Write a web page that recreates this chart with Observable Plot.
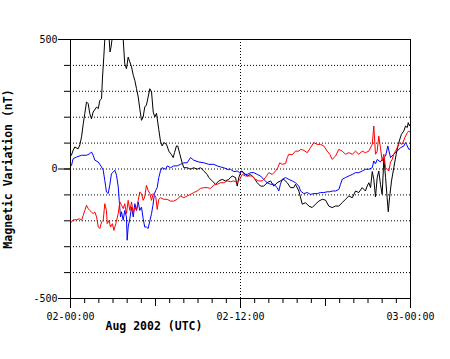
<!DOCTYPE html>
<html>
<head>
<meta charset="utf-8">
<script src="https://cdn.jsdelivr.net/npm/d3@7"></script>
<script src="https://cdn.jsdelivr.net/npm/@observablehq/plot@0.6"></script>
<style>
  html, body { margin: 0; padding: 0; background: #fff; }
  #chart svg { display: block; }
</style>
</head>
<body>
<div id="chart"></div>
<script>
// Hours since 2002-08-02 00:00 UTC, magnetic variation in nT
const blackSeries = [
  [0,50],[0.07,54],[0.19,73],[0.30,85],[0.54,78],[0.66,93],[0.78,124],[0.90,175],[1.01,214],[1.13,259],
  [1.25,252],[1.36,214],[1.48,194],[1.60,220],[1.84,239],[1.96,233],[2.07,265],[2.19,271],[2.26,355],
  [2.35,432],[2.42,500],[2.51,560],[2.65,540],[2.73,500],[2.79,452],[2.86,470],[2.93,500],[3.04,560],
  [3.39,580],[3.64,540],[3.72,500],[3.83,406],[3.95,387],[4.07,432],[4.19,413],[4.31,394],[4.43,362],
  [4.54,342],[4.66,310],[4.78,278],[4.89,233],[5.01,188],[5.13,201],[5.24,239],[5.36,247],[5.48,278],
  [5.60,310],[5.72,297],[5.84,220],[5.95,201],[6.07,215],[6.23,153],[6.35,108],[6.47,89],[6.59,102],
  [6.78,95],[6.94,69],[7.11,57],[7.25,44],[7.34,63],[7.48,89],[7.57,89],[7.72,57],[7.88,24],[8.00,5],
  [8.24,5],[8.47,-1],[8.70,5],[8.94,-1],[9.18,5],[9.41,-8],[9.65,-21],[9.76,-33],[10.00,-46],[10.24,-59],
  [10.47,-46],[10.71,-40],[10.94,-46],[11.17,-40],[11.41,-27],[11.65,-33],[11.77,-66],[11.88,-33],
  [12.05,-8],[12.23,-14],[12.47,-27],[12.71,-21],[12.94,-33],[13.18,-53],[13.41,-66],[13.64,-66],
  [13.88,-53],[14.12,-46],[14.35,-66],[14.59,-53],[14.82,-46],[15.06,-40],[15.30,-53],[15.53,-72],
  [15.76,-72],[15.88,-59],[16.12,-85],[16.36,-136],[16.59,-130],[16.82,-143],[17.06,-149],[17.29,-136],
  [17.53,-124],[17.77,-117],[18.00,-120],[18.23,-143],[18.47,-149],[18.71,-143],[18.94,-143],[19.18,-130],
  [19.41,-117],[19.65,-104],[19.89,-111],[20.12,-85],[20.35,-91],[20.59,-72],[20.82,-85],[20.94,-66],
  [21.06,-53],[21.18,-72],[21.30,-10],[21.41,-40],[21.53,-108],[21.65,-33],[21.76,-8],[21.88,-59],
  [22.00,-98],[22.12,40],[22.24,-33],[22.35,-111],[22.43,-165],[22.52,-111],[22.66,-46],[22.82,5],
  [22.99,57],[23.17,102],[23.36,134],[23.53,147],[23.65,166],[23.77,160],[23.84,179],[23.93,166],[24.0,175]
];
const blueSeries = [
  [0,10],[0.07,14],[0.19,40],[0.42,46],[0.78,53],[1.13,53],[1.36,59],[1.48,66],[1.60,53],[1.72,34],
  [1.96,27],[2.19,8],[2.31,-5],[2.42,-44],[2.54,-89],[2.66,-95],[2.77,-63],[2.89,-18],[3.01,-12],
  [3.13,-5],[3.25,-24],[3.37,-69],[3.44,-121],[3.53,-185],[3.60,-165],[3.72,-198],[3.83,-160],[3.95,-185],
  [4.00,-275],[4.07,-224],[4.19,-192],[4.31,-147],[4.43,-185],[4.54,-134],[4.66,-160],[4.78,-127],
  [4.89,-160],[5.01,-147],[5.13,-192],[5.24,-224],[5.36,-224],[5.48,-230],[5.60,-200],[5.72,-172],
  [5.82,-140],[5.93,-95],[6.02,-82],[6.12,-72],[6.23,-33],[6.35,-8],[6.47,5],[6.71,-1],[6.83,12],
  [7.06,5],[7.29,12],[7.53,12],[7.76,18],[8.00,24],[8.24,24],[8.47,44],[8.70,34],[9.06,27],[9.41,24],
  [9.76,18],[10.12,18],[10.35,12],[10.59,8],[10.82,5],[11.06,-1],[11.29,-1],[11.53,-10],[11.77,-8],
  [11.95,-14],[12.12,-8],[12.28,-21],[12.47,-21],[12.71,-14],[12.94,-14],[13.18,-21],[13.41,-27],
  [13.64,-40],[13.88,-53],[14.12,-59],[14.35,-59],[14.59,-72],[14.70,-85],[14.82,-59],[14.94,-40],
  [15.18,-33],[15.41,-40],[15.65,-46],[15.88,-53],[16.12,-66],[16.24,-85],[16.47,-95],[16.71,-91],
  [16.94,-98],[17.17,-95],[17.41,-95],[17.65,-91],[17.88,-91],[18.12,-88],[18.30,-88],[18.47,-85],
  [18.71,-85],[18.94,-79],[19.06,-59],[19.18,-40],[19.41,-33],[19.65,-27],[19.89,-21],[20.12,-14],
  [20.35,-14],[20.59,-8],[20.82,-1],[21.06,-1],[21.30,5],[21.41,31],[21.53,20],[21.65,37],[21.88,27],
  [22.00,37],[22.24,50],[22.40,89],[22.59,44],[22.82,57],[23.06,69],[23.29,82],[23.53,89],[23.65,102],
  [23.72,95],[23.88,76],[24.0,77]
];
const redSeries = [
  [0,-205],[0.07,-205],[0.19,-196],[0.42,-196],[0.66,-192],[0.78,-198],[0.90,-179],[1.01,-160],[1.13,-140],
  [1.25,-153],[1.36,-160],[1.48,-166],[1.60,-172],[1.72,-166],[1.84,-185],[1.96,-224],[2.07,-230],
  [2.19,-205],[2.31,-198],[2.42,-134],[2.54,-160],[2.59,-211],[2.73,-198],[2.82,-224],[2.96,-211],
  [3.06,-237],[3.20,-211],[3.37,-172],[3.48,-127],[3.60,-140],[3.72,-153],[3.83,-134],[3.95,-172],
  [4.07,-121],[4.19,-160],[4.31,-127],[4.43,-172],[4.54,-147],[4.66,-160],[4.78,-121],[4.89,-89],
  [5.01,-95],[5.13,-121],[5.24,-108],[5.36,-63],[5.48,-82],[5.60,-95],[5.72,-121],[5.84,-95],
  [6.02,-108],[6.12,-156],[6.23,-117],[6.35,-111],[6.59,-117],[6.83,-117],[7.06,-124],[7.29,-124],
  [7.53,-117],[7.76,-104],[8.00,-111],[8.24,-104],[8.47,-98],[8.70,-91],[8.94,-85],[9.18,-75],
  [9.41,-72],[9.65,-72],[9.88,-75],[10.12,-62],[10.35,-59],[10.59,-53],[10.82,-53],[11.06,-46],
  [11.29,-49],[11.53,-46],[11.77,-53],[11.95,-40],[12.12,-21],[12.35,-27],[12.59,-27],[12.82,-27],
  [13.06,-40],[13.29,-46],[13.53,-46],[13.76,-33],[14.00,-14],[14.24,-21],[14.47,-8],[14.63,5],
  [14.77,24],[14.94,18],[15.18,21],[15.30,44],[15.41,57],[15.65,55],[15.88,69],[16.12,69],[16.24,76],
  [16.47,72],[16.71,63],[16.94,82],[17.17,102],[17.41,95],[17.65,95],[17.88,89],[18.12,69],[18.30,57],
  [18.47,37],[18.71,50],[18.94,76],[19.18,69],[19.41,57],[19.65,63],[19.89,57],[20.12,69],[20.35,57],
  [20.59,69],[20.82,63],[21.06,69],[21.30,95],[21.41,166],[21.53,57],[21.65,69],[21.76,127],[21.88,82],
  [22.00,31],[22.12,57],[22.24,5],[22.35,-1],[22.47,-8],[22.59,27],[22.71,37],[22.82,57],[22.94,69],
  [23.06,82],[23.22,102],[23.41,95],[23.60,121],[23.77,140],[23.88,147],[24.0,140]
];

const xLabelTicks = [0, 12, 24];
const xLabelText = ["02-00:00", "02-12:00", "03-00:00"];
const xMajorTicks = [6, 18];
const xMinorTicks = d3.range(0, 25, 1);
const yLabelTicks = [-500, 0, 500];
const yMinorTicks = d3.range(-500, 501, 100);
const yGrid = d3.range(-400, 401, 100);
const xGrid = [12];
const yTitle = "Magnetic Variation (nT)";
const xTitle = "Aug 2002 (UTC)";

const toRows = (arr) => arr.map(([h, v]) => ({h, v}));

const chart = Plot.plot({
  width: 450,
  height: 359,
  marginLeft: 70,
  marginRight: 40,
  marginTop: 39,
  marginBottom: 61,
  style: {fontFamily: "'DejaVu Sans Mono', monospace", fontSize: "10px", color: "black", background: "white"},
  x: {domain: [0, 24], label: null},
  y: {domain: [-500, 500], label: null},
  marks: [
    Plot.ruleY(yGrid, {stroke: "black", strokeDasharray: "1,2", strokeWidth: 1}),
    Plot.ruleX(xGrid, {stroke: "black", strokeDasharray: "1,2", strokeWidth: 1}),
    Plot.line(toRows(blackSeries), {x: "h", y: "v", stroke: "#000000", strokeWidth: 1, clip: true}),
    Plot.line(toRows(blueSeries), {x: "h", y: "v", stroke: "#0000ff", strokeWidth: 1, clip: true}),
    Plot.line(toRows(redSeries), {x: "h", y: "v", stroke: "#ff0000", strokeWidth: 1, clip: true}),
    Plot.frame({stroke: "black", strokeWidth: 1}),
    Plot.axisX(xMinorTicks, {tickSize: 5, tickFormat: () => "", stroke: "black", label: null}),
    Plot.axisX(xMajorTicks, {tickSize: 8, tickFormat: () => "", stroke: "black", label: null}),
    Plot.axisX(xLabelTicks, {tickSize: 10, tickPadding: 4, tickFormat: (d) => xLabelText[xLabelTicks.indexOf(d)], stroke: "black", fill: "black", label: null}),
    Plot.axisY(yMinorTicks, {tickSize: 6, tickFormat: () => "", stroke: "black", label: null}),
    Plot.axisY(yLabelTicks, {tickSize: 12, tickPadding: 1, tickFormat: (d) => String(d), stroke: "black", fill: "black", label: null}),
    Plot.text([yTitle], {frameAnchor: "left", dx: -62, rotate: -90, text: (d) => d, fontWeight: "bold", fontSize: 11.5, fill: "black", textAnchor: "middle"}),
    Plot.text([xTitle], {frameAnchor: "bottom-left", dx: 35, dy: 31, text: (d) => d, fontWeight: "bold", fontSize: 11.5, fill: "black", textAnchor: "start"})
  ]
});
document.getElementById("chart").appendChild(chart);
</script>
</body>
</html>
